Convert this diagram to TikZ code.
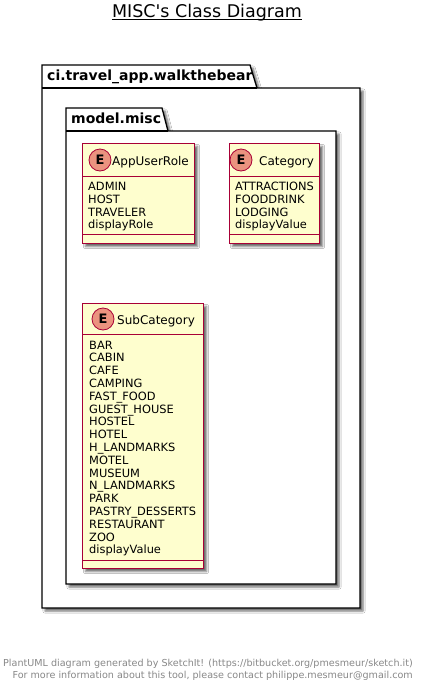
\documentclass[tikz,border=0pt]{standalone}
\usepackage{fontspec}
\setmainfont{DejaVu Sans}[Ligatures=TeXOff]
\usetikzlibrary{shadows.blur}
\definecolor{classfill}{HTML}{FEFECE}
\definecolor{classborder}{HTML}{A80036}
\definecolor{enumcircle}{HTML}{EB937F}
\definecolor{footgray}{HTML}{888888}
\begin{document}
\begin{tikzpicture}[x=1pt,y=-1pt,
  shad/.style={blur shadow={shadow xshift=3pt,shadow yshift=-3pt,shadow blur steps=4,shadow opacity=60}},
  pkg/.style={draw=black,line width=1.3pt,fill=white,shad},
  pkgline/.style={draw=black,line width=1.3pt},
  pkglabel/.style={anchor=base west,inner sep=0,font=\fontsize{14}{14}\selectfont\bfseries},
  cls/.style={draw=classborder,line width=1pt,fill=classfill,shad,inner sep=0,anchor=north west},
  clsline/.style={draw=classborder,line width=1pt},
  circ/.style={circle,draw=classborder,line width=0.8pt,fill=enumcircle,minimum size=22pt,inner sep=0,font=\fontsize{13}{13}\selectfont\bfseries},
  cname/.style={anchor=base west,inner sep=0,font=\fontsize{12}{12}\selectfont},
  attr/.style={anchor=base west,inner sep=0,font=\fontsize{11.4}{11.4}\selectfont},
  foot/.style={anchor=base east,inner sep=0,text=footgray,font=\fontsize{9.6}{9.6}\selectfont}]
\useasboundingbox (0,0) rectangle (424,691);
\fill[white] (0,0) rectangle (424,691);
% title
\node[anchor=base,inner sep=0,font=\fontsize{17.5}{18}\selectfont] (title) at (207,17) {MISC's Class Diagram};
\draw[line width=0.9pt] ([yshift=-2.5pt]title.base west) -- ([yshift=-2.5pt]title.base east);
% outer package
\path[pkg] (42,65) -- (250,65) -- (257,88) -- (360,88) -- (360,608) -- (42,608) -- cycle;
\draw[pkgline] (42,88) -- (257,88);
\node[pkglabel] (outerlbl) at (47,80.5) {ci.travel\_app.walkthebear};
% inner package
\path[pkg] (66,108) -- (162,108) -- (168,131) -- (336,131) -- (336,584) -- (66,584) -- cycle;
\draw[pkgline] (66,131) -- (168,131);
\node[pkglabel] (innerlbl) at (71,123) {model.misc};
% AppUserRole
\node[cls,minimum width=112pt,minimum height=100pt] (aur) at (82,143) {};
\draw[clsline] ([yshift=-33pt]aur.north west) -- ([yshift=-33pt]aur.north east);
\draw[clsline] ([yshift=-91pt]aur.north west) -- ([yshift=-91pt]aur.north east);
\node[circ] (aurc) at (100,160) {E};
\node[cname] (aurn) at (112,165) {AppUserRole};
\foreach \t [count=\i] in {ADMIN,HOST,TRAVELER,displayRole}
  \node[attr] (aura\i) at (88,{190.5+(\i-1)*12.8}) {\t};
% Category
\node[cls,minimum width=90pt,minimum height=100pt] (cat) at (229,143) {};
\draw[clsline] ([yshift=-33pt]cat.north west) -- ([yshift=-33pt]cat.north east);
\draw[clsline] ([yshift=-91pt]cat.north west) -- ([yshift=-91pt]cat.north east);
\node[circ] (catc) at (241,160) {E};
\node[cname] (catn) at (259,165) {Category};
\foreach \t [count=\i] in {ATTRACTIONS,FOODDRINK,LODGING,displayValue}
  \node[attr] (cata\i) at (235,{190.5+(\i-1)*12.8}) {\t};
% SubCategory
\node[cls,minimum width=121pt,minimum height=265pt] (sub) at (82,303) {};
\draw[clsline] ([yshift=-31pt]sub.north west) -- ([yshift=-31pt]sub.north east);
\draw[clsline] ([yshift=-257pt]sub.north west) -- ([yshift=-257pt]sub.north east);
\node[circ] (subc) at (103,319) {E};
\node[cname] (subn) at (117,324) {SubCategory};
\foreach \t [count=\i] in {BAR,CABIN,CAFE,CAMPING,FAST\_FOOD,GUEST\_HOUSE,HOSTEL,HOTEL,H\_LANDMARKS,MOTEL,MUSEUM,N\_LANDMARKS,PARK,PASTRY\_DESSERTS,RESTAURANT,ZOO,displayValue}
  \node[attr] (suba\i) at (89,{349+(\i-1)*12.8}) {\t};
% footer
\node[foot] (foot1) at (413,666.5) {PlantUML diagram generated by SketchIt! (https://bitbucket.org/pmesmeur/sketch.it)};
\node[foot] (foot2) at (413,678.5) {For more information about this tool, please contact philippe.mesmeur@gmail.com};
\end{tikzpicture}
\end{document}
